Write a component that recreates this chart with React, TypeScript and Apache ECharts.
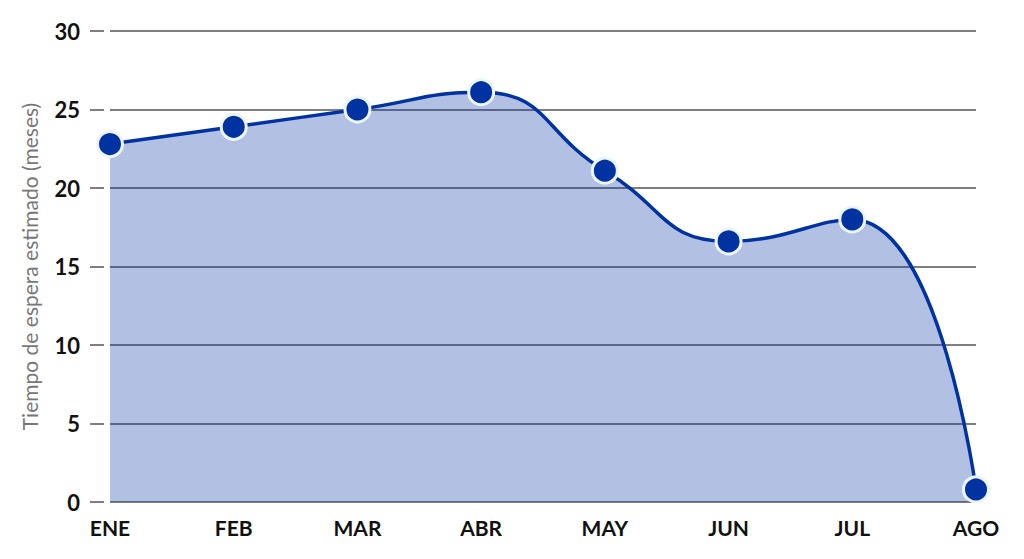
import React, { useEffect, useRef } from "react";
import * as echarts from "echarts";

const months = ["ENE", "FEB", "MAR", "ABR", "MAY", "JUN", "JUL", "AGO"];
const waitMonths = [22.8, 23.9, 25.0, 26.1, 21.1, 16.6, 18.0, 0.8];
const yTicks = [0, 5, 10, 15, 20, 25, 30];
const yAxisTitle = "Tiempo de espera estimado (meses)";

export default function App() {
  const ref = useRef<HTMLDivElement>(null);
  useEffect(() => {
    if (!ref.current) return;
    const chart = echarts.init(ref.current, undefined, { renderer: "svg" });
    chart.setOption({
      animation: false,
      grid: { left: 110, right: 48, top: 31, bottom: 57, containLabel: false, outerBoundsMode: "none" },
      xAxis: {
        type: "category",
        data: months,
        boundaryGap: false,
        axisLine: { show: false },
        axisTick: { show: false },
        axisLabel: {
          color: "#111",
          fontFamily: "Lato",
          fontWeight: "bold",
          fontSize: 21,
          margin: 15,
        },
      },
      yAxis: {
        type: "value",
        min: yTicks[0],
        max: yTicks[yTicks.length - 1],
        interval: 5,
        offset: 6,
        name: yAxisTitle,
        nameLocation: "middle",
        nameGap: 64,
        nameTextStyle: { color: "#777", fontFamily: "Lato", fontSize: 21 },
        axisLine: { show: false },
        axisTick: { show: true, length: 14, lineStyle: { color: "#555", width: 1.5 } },
        axisLabel: {
          color: "#111",
          fontFamily: "Lato",
          fontWeight: "bold",
          fontSize: 22,
          margin: 24,
        },
        splitLine: { show: true, lineStyle: { color: "#555", width: 1.5 } },
      },
      series: [
        {
          type: "line",
          data: waitMonths,
          smooth: 0.5,
          symbol: "circle",
          symbolSize: 25,
          lineStyle: { color: "#0033a1", width: 3.5 },
          itemStyle: { color: "#0033a1", borderColor: "#eef5fa", borderWidth: 3 },
          areaStyle: { color: "#0033a1", opacity: 0.3 },
          z: 3,
        },
      ],
    });
    return () => chart.dispose();
  }, []);
  return <div ref={ref} style={{ width: 1024, height: 559, position: "absolute", left: 0, top: 0 }} />;
}
